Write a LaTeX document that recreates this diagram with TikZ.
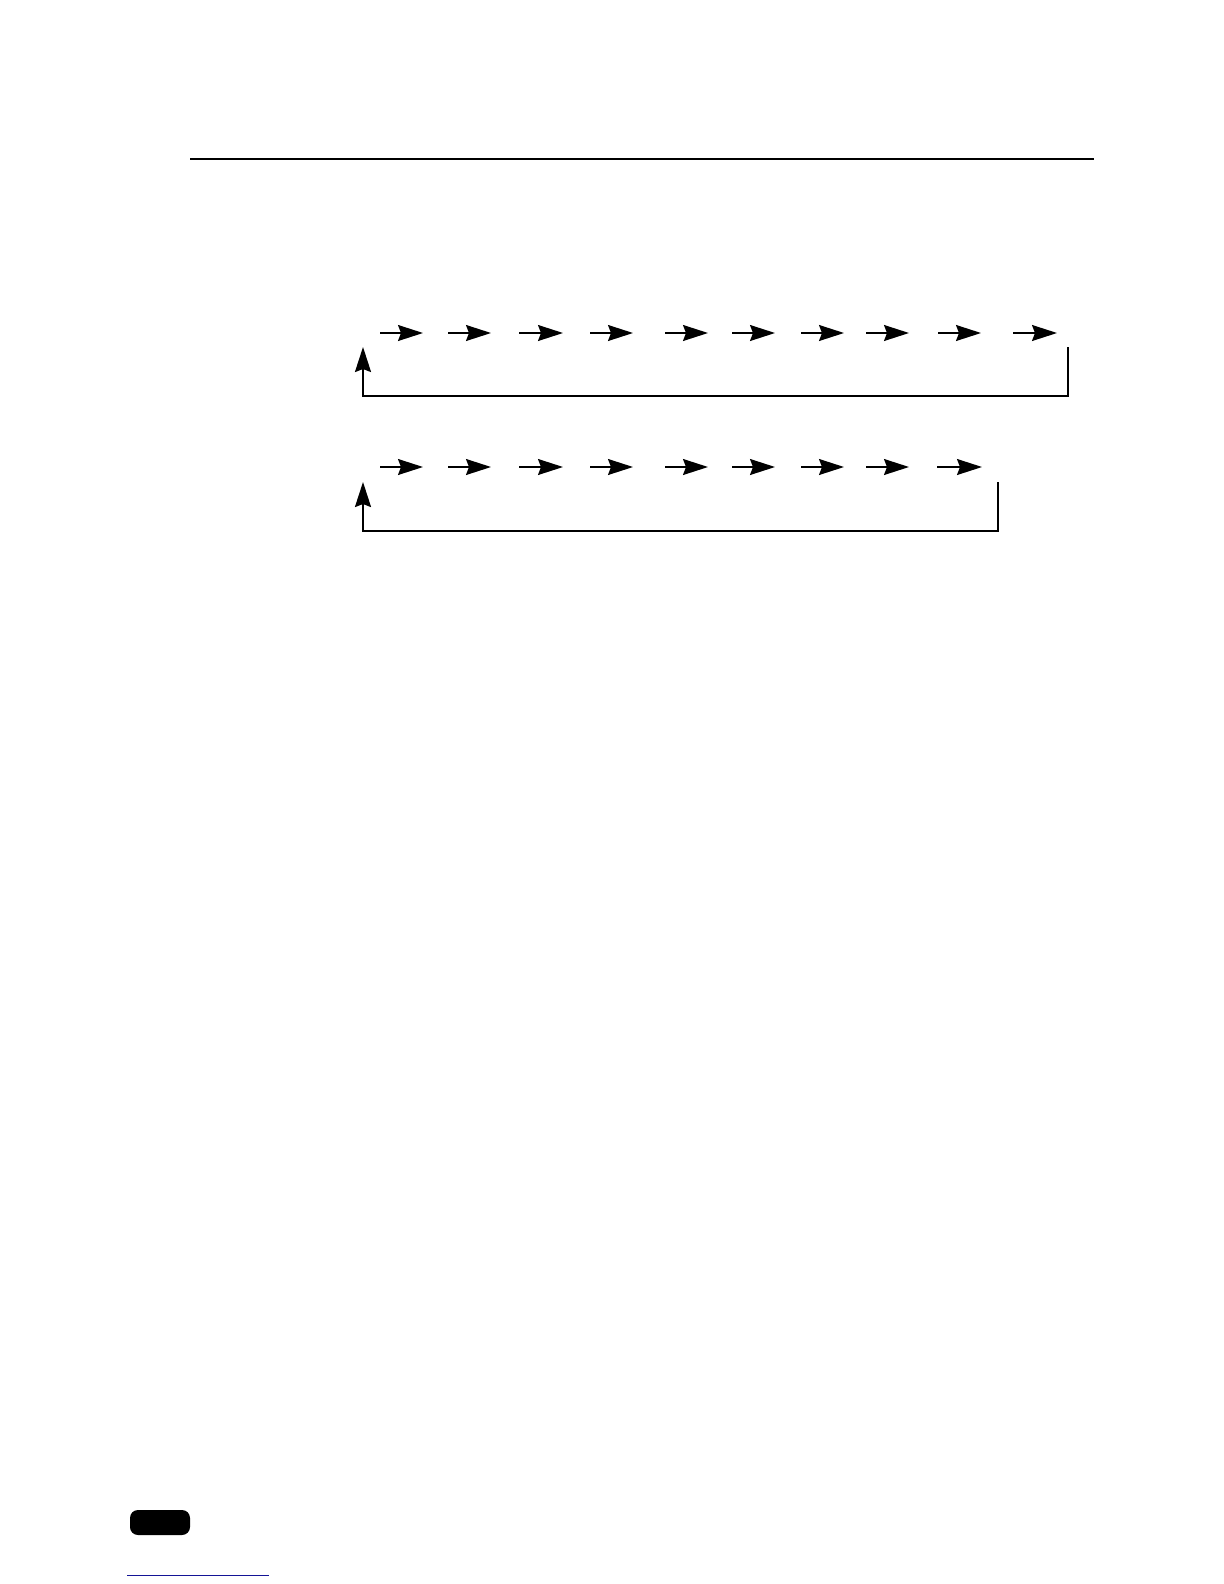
\documentclass[tikz,border=0pt]{standalone}
\usepackage{tikz}
\usetikzlibrary{arrows.meta}
\usepackage{xcolor}

\definecolor{linkblue}{RGB}{20,20,150}

\tikzset{
    chainarrow/.style={line width=0.75bp, -{Stealth[length=12.5bp, width=8bp, inset=1.5bp]}},
    backloop/.style={line width=1bp, -{Stealth[length=12.5bp, width=8bp, inset=1.5bp]}},
}

\begin{document}
\begin{tikzpicture}[x=0.5bp, y=-0.5bp]
    % Page frame
    \useasboundingbox (0, 0) rectangle (1224, 1584);

    % Header rule
    \draw[line width=1bp] (190, 159) -- (1094, 159);

    % Upper chain of ten arrows
    \foreach \i/\xa/\xb in {1/380/423, 2/448/491, 3/519/563, 4/590/633, 5/665/708,
                            6/732/775, 7/801/844, 8/866/909, 9/938/981, 10/1013/1057} {
        \coordinate (ua\i) at (\xa, 333);
        \coordinate (ub\i) at (\xb, 333);
        \draw[chainarrow] (ua\i) -- (ub\i);
    }

    % Return path of the upper chain
    \coordinate (uright) at (1068, 347);
    \coordinate (uleft) at (363, 396);
    \coordinate (uback) at (363, 347);
    \draw[backloop] (uright) |- (uleft) -- (uback);

    % Lower chain of nine arrows
    \foreach \i/\xa/\xb in {1/380/423, 2/448/491, 3/519/563, 4/590/633, 5/665/708,
                            6/732/775, 7/801/844, 8/866/909, 9/937/982} {
        \coordinate (la\i) at (\xa, 467);
        \coordinate (lb\i) at (\xb, 467);
        \draw[chainarrow] (la\i) -- (lb\i);
    }

    % Return path of the lower chain
    \coordinate (lright) at (998, 482);
    \coordinate (lleft) at (363, 531);
    \coordinate (lback) at (363, 482);
    \draw[backloop] (lright) |- (lleft) -- (lback);

    % Footer tab and link line
    \fill[black, rounded corners=4] (130, 1510) rectangle (190, 1535);
    \draw[linkblue, line width=0.5bp] (127, 1575) -- (269, 1575);
\end{tikzpicture}
\end{document}
